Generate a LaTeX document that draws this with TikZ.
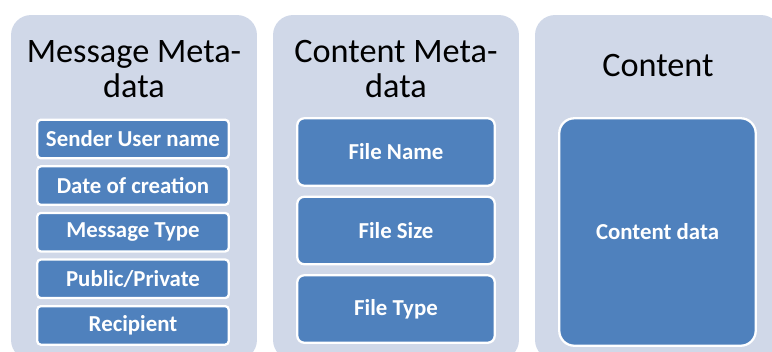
\documentclass[tikz,border=0pt]{standalone}
\usepackage{fontspec}
\setmainfont{Carlito}
\definecolor{panelgray}{HTML}{D0D8E8}
\definecolor{cellblue}{HTML}{4F81BD}
\tikzset{
  panel/.style={fill=panelgray,rounded corners=0.4cm,minimum width=4.92cm,minimum height=6.9cm,inner sep=0pt},
  paneltitle/.style={align=center,inner sep=0pt,font=\fontsize{19.5}{20}\selectfont},
  cell/.style={fill=cellblue,draw=white,line width=1.3pt,text=white,inner sep=0pt,font=\fontsize{13}{15}\selectfont\bfseries},
  smallcell/.style={cell,rounded corners=2pt,minimum width=3.83cm,minimum height=0.77cm},
  filecell/.style={cell,rounded corners=4pt,minimum width=3.95cm,minimum height=1.35cm}
}
\begin{document}
\begin{tikzpicture}[x=0.02cm,y=-0.02cm]
\clip (0,0) rectangle (772,352);
% three panels
\node[panel] (msgpanel) at (134,187.5) {};
\node[panel] (metapanel) at (396,187.5) {};
\node[panel] (contpanel) at (658,187.5) {};
\node[paneltitle] (msgtitle) at (134,69) {Message Meta-\\data};
\node[paneltitle] (metatitle) at (396,69) {Content Meta-\\data};
\node[paneltitle] (conttitle) at (658,66) {Content};
% message meta-data
\foreach \t [count=\i] in {Sender User name,Date of creation,Message Type,Public/Private,Recipient}
  \node[smallcell] (msg\i) at (133,{139+46.6*(\i-1)}) {\t};
% content meta-data
\foreach \t [count=\i] in {File Name,File Size,File Type}
  \node[filecell] (file\i) at (396,{152+78.5*(\i-1)}) {\t};
% content
\node[cell,rounded corners=0.3cm,minimum width=3.93cm,minimum height=4.55cm] (data) at (657.5,232) {Content data};
\end{tikzpicture}
\end{document}
